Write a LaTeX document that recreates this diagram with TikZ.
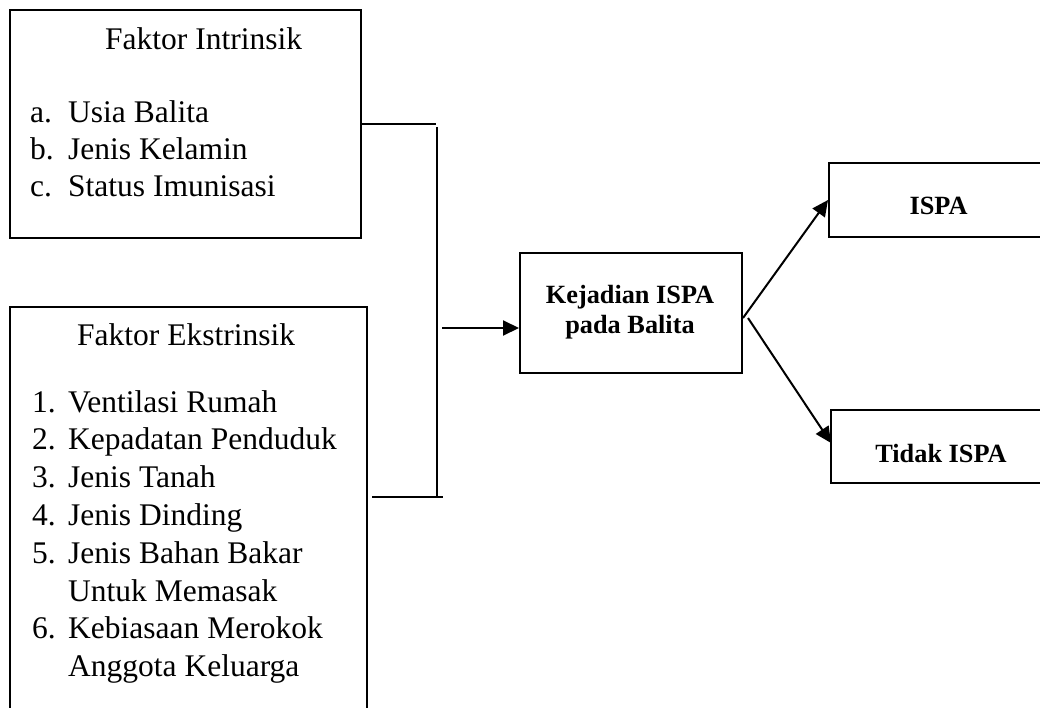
\documentclass[tikz,border=0pt]{standalone}
\usepackage{fontspec}
\setmainfont{Liberation Serif}
\usetikzlibrary{arrows.meta}
\begin{document}
\begin{tikzpicture}[x=1pt,y=-1pt,
  boxnode/.style={draw=black,line width=2pt,rectangle,inner sep=0pt,fill=none},
  reg/.style={inner sep=0pt,font=\fontsize{31.5}{37.8}\selectfont},
  bld/.style={inner sep=0pt,font=\fontsize{26.3}{30}\selectfont\bfseries},
  conn/.style={line width=2pt},
  arr/.style={line width=2pt,-{Triangle[length=16pt,width=15pt]}}]
\useasboundingbox (0,0) rectangle (1040,708);
\clip (0,0) rectangle (1040,708);
% boxes
\node[boxnode,minimum width=351pt,minimum height=228pt] (b1) at (185.5,124) {};
\node[boxnode,minimum width=357pt,minimum height=433pt] (b2) at (188.5,523.5) {};
\node[boxnode,minimum width=222pt,minimum height=120pt] (b3) at (631,313) {};
\node[boxnode,minimum width=216pt,minimum height=74pt] (b4) at (937,200) {};
\node[boxnode,minimum width=214pt,minimum height=73pt] (b5) at (938,446.5) {};
% box 1 text
\node[reg,anchor=base west] (t1h) at (105,50) {Faktor Intrinsik};
\node[reg,anchor=base west] (t1an) at (30,123) {a.};
\node[reg,anchor=base west] (t1a) at (68,123) {Usia Balita};
\node[reg,anchor=base west] (t1bn) at (30,160) {b.};
\node[reg,anchor=base west] (t1b) at (68,160) {Jenis Kelamin};
\node[reg,anchor=base west] (t1cn) at (30,197) {c.};
\node[reg,anchor=base west] (t1c) at (68,197) {Status Imunisasi};
% box 2 text
\node[reg,anchor=base west] (t2h) at (77,345) {Faktor Ekstrinsik};
\node[reg,anchor=base west] (t2an) at (32,412) {1.};
\node[reg,anchor=base west] (t2a) at (68,412) {Ventilasi Rumah};
\node[reg,anchor=base west] (t2bn) at (32,449.8) {2.};
\node[reg,anchor=base west] (t2b) at (68,449.8) {Kepadatan Penduduk};
\node[reg,anchor=base west] (t2cn) at (32,487.6) {3.};
\node[reg,anchor=base west] (t2c) at (68,487.6) {Jenis Tanah};
\node[reg,anchor=base west] (t2dn) at (32,525.4) {4.};
\node[reg,anchor=base west] (t2d) at (68,525.4) {Jenis Dinding};
\node[reg,anchor=base west] (t2en) at (32,563.2) {5.};
\node[reg,anchor=base west] (t2e) at (68,563.2) {Jenis Bahan Bakar};
\node[reg,anchor=base west] (t2e2) at (68,601) {Untuk Memasak};
\node[reg,anchor=base west] (t2fn) at (32,638.8) {6.};
\node[reg,anchor=base west] (t2f) at (68,638.8) {Kebiasaan Merokok};
\node[reg,anchor=base west] (t2f2) at (68,676.6) {Anggota Keluarga};
% bold texts
\node[bld,anchor=base] (t3a) at (630,303) {Kejadian ISPA};
\node[bld,anchor=base] (t3b) at (630,333) {pada Balita};
\node[bld,anchor=base] (t4) at (938.5,215) {ISPA};
\node[bld,anchor=base] (t5) at (941,462) {Tidak ISPA};
% connectors
\coordinate (tr) at (436,124);
\coordinate (vt) at (437,127);
\coordinate (vb) at (437,498);
\coordinate (bl) at (372,497);
\coordinate (br) at (443,497);
\coordinate (am) at (442,328);
\coordinate (s1) at (743,318);
\coordinate (s2) at (748,318);
\coordinate (t2end) at (831,443);
\draw[conn] (b1.east) -- (tr);
\draw[conn] (vt) -- (vb);
\draw[conn] (bl) -- (br);
\draw[arr] (am) -- (am -| b3.west);
\draw[arr] (s1) -- (b4.west);
\draw[arr] (s2) -- (t2end);
\end{tikzpicture}
\end{document}
